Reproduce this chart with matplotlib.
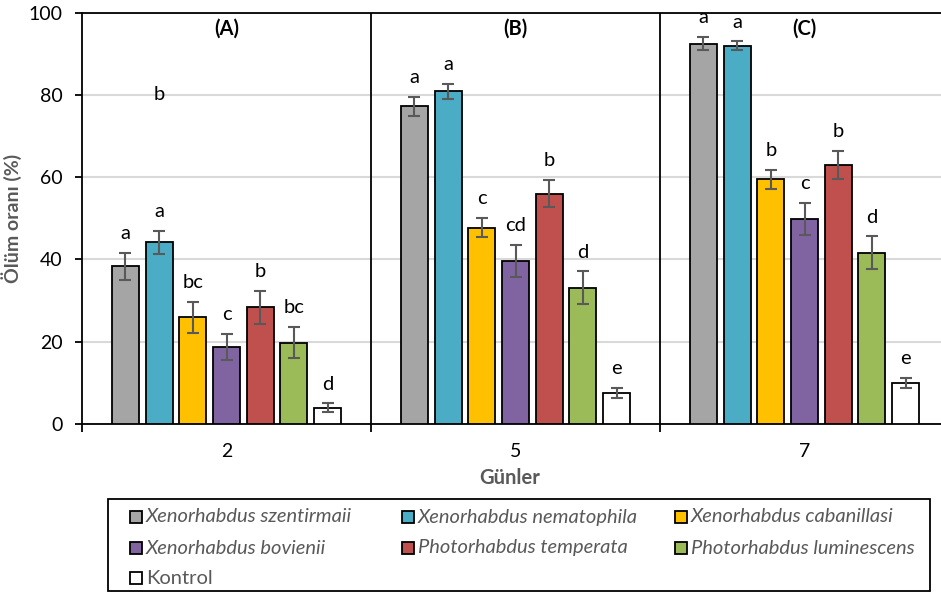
import matplotlib
matplotlib.use("Agg")
import matplotlib.pyplot as plt
import numpy as np
from matplotlib.patches import Rectangle

plt.rcParams['font.family'] = ['Lato', 'DejaVu Sans']

days = ["2", "5", "7"]
panels = ["(A)", "(B)", "(C)"]
series = ["Xenorhabdus szentirmaii", "Xenorhabdus nematophila", "Xenorhabdus cabanillasi",
          "Xenorhabdus bovienii", "Photorhabdus temperata", "Photorhabdus luminescens", "Kontrol"]
colors = ["#A5A5A5", "#4BACC6", "#FFC000", "#8064A2", "#C0504D", "#9BBB59", "#FFFFFF"]

# values[series][day]
values = [
    [38.3, 77.3, 92.5],
    [44.2, 80.9, 92.0],
    [25.9, 47.7, 59.5],
    [18.7, 39.6, 49.8],
    [28.4, 56.0, 63.0],
    [19.8, 33.1, 41.6],
    [4.0, 7.5, 10.0],
]
errors = [
    [3.3, 2.3, 1.6],
    [2.8, 1.8, 1.0],
    [3.8, 2.3, 2.3],
    [3.1, 3.9, 3.9],
    [4.0, 3.3, 3.4],
    [3.8, 4.0, 4.0],
    [1.0, 1.25, 1.3],
]
letters = [
    ["a", "a", "a"],
    ["a", "a", "a"],
    ["bc", "c", "b"],
    ["c", "cd", "c"],
    ["b", "b", "b"],
    ["bc", "d", "d"],
    ["d", "e", "e"],
]
stray_label = "b"
stray_value = 80

gray_text = "#595959"
fs = 14.5
W, H = 941, 593

fig = plt.figure(figsize=(W/100, H/100), dpi=100)
ax = fig.add_axes([82/W, (H-424)/H, 1-82/W, (424-12.7)/H])

x = np.arange(len(days))
step = 0.1166
width = 0.093
n = len(series)
for i in range(n):
    pos = x + (i - (n-1)/2) * step
    ax.bar(pos, values[i], width=width, color=colors[i], edgecolor="black",
           linewidth=1.3, zorder=3, label=series[i])
    ax.errorbar(pos, values[i], yerr=errors[i], fmt="none", ecolor=gray_text,
                elinewidth=1.5, capsize=4.3, capthick=1.5, zorder=4)
    for j in range(len(days)):
        ax.annotate(letters[i][j], (pos[j], values[i][j] + errors[i][j]),
                    xytext=(0, 10), textcoords="offset points",
                    ha="center", va="baseline", fontsize=fs, color="black", zorder=5)

# stray label over second bar of first group
ax.text(x[0] + (1 - (n-1)/2) * step, stray_value, stray_label, ha="center", va="center",
        fontsize=fs, color="black", zorder=5)

for j, p in enumerate(panels):
    ax.text(x[j], 96, p, ha="center", va="center", fontsize=fs, fontweight="bold", color="black")

for b in [0.5, 1.5]:
    ax.axvline(b, color="black", linewidth=1.3, zorder=2)

ax.set_ylim(0, 100)
ax.set_xlim(-0.5, -0.5 + (W-82)/289)
ax.set_yticks([0, 20, 40, 60, 80, 100])
ax.yaxis.grid(True, color="#D9D9D9", linewidth=1.5, zorder=0)
ax.set_axisbelow(True)
ax.set_xticks(x)
ax.set_xticklabels(days)
ax.set_xticks([-0.5, 0.5, 1.5], minor=True)
ax.tick_params(axis="x", which="major", length=0, pad=14, labelsize=14)
ax.tick_params(axis="x", which="minor", length=6, width=1.3, direction="out")
ax.tick_params(axis="y", length=5, width=1.3, pad=9, labelsize=14)
for s in ["left", "bottom", "top"]:
    ax.spines[s].set_linewidth(1.3)
    ax.spines[s].set_color("black")
ax.spines["right"].set_visible(False)

ax.set_ylabel("Ölüm oranı (%)", fontsize=14, fontweight="bold", color=gray_text, labelpad=5)
fig.text(510/W, 1-478/H, "Günler", ha="center", va="center", fontsize=14.5,
         fontweight="bold", color=gray_text)

# legend box (3 equal columns, row-wise)
fig.patches.append(Rectangle((108/W, 1-591/H), (930-108)/W, (591-499)/H,
                             transform=fig.transFigure, facecolor="white",
                             edgecolor="black", linewidth=1.3))
col_x = [130, 402, 675]
row_y = [517, 548, 578]
for i in range(n):
    r, c = divmod(i, 3)
    mx, my = col_x[c], row_y[r]
    fig.patches.append(Rectangle((mx/W, 1-(my+6)/H), 12/W, 12/H, transform=fig.transFigure,
                                 facecolor=colors[i], edgecolor="black", linewidth=1.3))
    fig.text((mx+16)/W, 1-my/H, series[i], ha="left", va="center", fontsize=fs,
             color=gray_text, fontstyle="italic" if i < n-1 else "normal")

fig.savefig("out.png", dpi=100)
